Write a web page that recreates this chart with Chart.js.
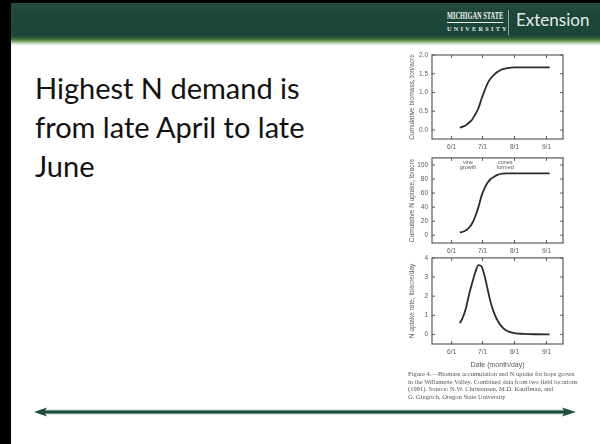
<!DOCTYPE html>
<html>
<head>
<meta charset="utf-8">
<script src="https://cdn.jsdelivr.net/npm/chart.js@4.4.1/dist/chart.umd.min.js"></script>
<style>
  html, body { margin: 0; padding: 0; }
  body { width: 600px; height: 444px; position: relative; overflow: hidden; background: #fff; }
  .abs { position: absolute; }
  #leftBar { left: 0; top: 0; width: 11px; height: 444px; background: #000; }
  #topBar { left: 0; top: 0; width: 600px; height: 3px; background: #000; }
  #header {
    left: 11px; top: 3px; width: 589px; height: 43px;
    background: linear-gradient(to bottom, #264c40 0px, #1e473a 10px, #1a4537 32px, #2c5a3b 35px, #55843f 37px, #97b585 39px, #d9e5d3 41px, #ffffff 43px);
  }
  #msu1 { left: 447px; top: 11px; font: bold 9.5px "Liberation Serif", serif; color: #f2f5f3;
          border-bottom: 1px solid #e6ece9; line-height: 11px; white-space: nowrap;
          transform: scaleX(0.67); transform-origin: left top; }
  #msu2 { left: 447px; top: 25px; font: bold 6.2px "Liberation Serif", serif; color: #e6ece9; letter-spacing: 2.3px; white-space: nowrap; }
  #divider { left: 508px; top: 10px; width: 1px; height: 25px; background: #8fa79e; }
  #ext { left: 516px; top: 9px; font: 17px Lato, sans-serif; color: #e4ebe7; white-space: nowrap; }
  #bodyText { left: 35px; top: 68px; font: 29px Lato, sans-serif; line-height: 39px; color: #111; white-space: nowrap; }
  canvas { position: absolute; filter: blur(0.3px); }
  #caption { left: 408px; top: 370px; font: 6.5px "Liberation Serif", serif; line-height: 7.5px; color: #555; white-space: nowrap; filter: blur(0.3px); }
</style>
</head>
<body>
<div class="abs" id="topBar"></div>
<div class="abs" id="header"></div>
<div class="abs" id="leftBar"></div>
<div class="abs" id="msu1">MICHIGAN STATE</div>
<div class="abs" id="msu2">UNIVERSITY</div>
<div class="abs" id="divider"></div>
<div class="abs" id="ext">Extension</div>
<div class="abs" id="bodyText">Highest N demand is<br>from late April to late<br>June</div>

<canvas id="chartBiomass" width="180" height="112" style="left:390px;top:47px"></canvas>
<canvas id="chartUptake" width="180" height="112" style="left:390px;top:150px"></canvas>
<canvas id="chartRate" width="180" height="122" style="left:390px;top:250px"></canvas>

<div class="abs" id="caption">Figure 4.—Biomass accumulation and N uptake for hops grown<br>in the Willamette Valley. Combined data from two field locations<br>(1991). Source: N.W. Christensen, M.D. Kauffman, and<br>G. Gingrich, Oregon State University</div>

<svg class="abs" style="left:0;top:400px" width="600" height="24">
  <line x1="40" y1="12" x2="568" y2="12" stroke="#bfd2c9" stroke-width="5"/>
  <line x1="40" y1="12" x2="568" y2="12" stroke="#1d4d40" stroke-width="3"/>
  <polygon points="34,12 47,7.5 44,12 47,16.5" fill="#1d4d40"/>
  <polygon points="576,12 562,7.5 565,12 562,16.5" fill="#1d4d40"/>
</svg>

<script>
// valores (fechas mes/día)
const dates    = ['6/9','6/12','6/15','6/18','6/21','6/24','6/27','6/30','7/3','7/6','7/9','7/12','7/15','7/20','7/25','8/1','8/10','8/20','9/4'];
const biomass  = [0.06, 0.09, 0.13, 0.20, 0.28, 0.42, 0.58, 0.83, 1.05, 1.25, 1.38, 1.47, 1.54, 1.62, 1.65, 1.67, 1.67, 1.67, 1.67];
const nUptake  = [4, 5, 7, 11, 17, 27, 40, 56, 67, 75, 80, 83, 85.5, 87.5, 88, 88, 88, 88, 88];
const nRate    = [0.6, 0.9, 1.4, 2.1, 2.7, 3.25, 3.62, 3.55, 3.05, 2.35, 1.65, 1.15, 0.78, 0.38, 0.18, 0.07, 0.03, 0.01, 0];

const xTickDates   = ['6/1', '7/1', '8/1', '9/1'];
const biomassTicks = [0, 0.5, 1.0, 1.5, 2.0];
const uptakeTicks  = [0, 20, 40, 60, 80, 100];
const rateTicks    = [0, 1, 2, 3, 4];

const MONTH_START = { 5: -31, 6: 0, 7: 30, 8: 61, 9: 92 };
function dayOf(s) {
  const [m, d] = s.split('/').map(Number);
  return MONTH_START[m] + d - 1;
}

const GRAY = '#5a5a5a';
const FONT = 'Liberation Sans';

// caja cerrada y marcas hacia adentro, estilo de la figura original
const boxPlugin = {
  id: 'box',
  afterDraw(chart) {
    const { ctx, chartArea: a, scales: { x, y } } = chart;
    ctx.save();
    ctx.strokeStyle = GRAY;
    ctx.lineWidth = 1.2;
    ctx.strokeRect(a.left, a.top, a.right - a.left, a.bottom - a.top);
    ctx.lineWidth = 1;
    ctx.beginPath();
    x.ticks.forEach(t => {
      const px = x.getPixelForValue(t.value);
      ctx.moveTo(px, a.bottom); ctx.lineTo(px, a.bottom - 3);
      ctx.moveTo(px, a.top);    ctx.lineTo(px, a.top + 3);
    });
    y.ticks.forEach(t => {
      const py = y.getPixelForValue(t.value);
      ctx.moveTo(a.left, py);  ctx.lineTo(a.left + 3, py);
      ctx.moveTo(a.right, py); ctx.lineTo(a.right - 3, py);
    });
    ctx.stroke();
    ctx.restore();
  }
};

// notas de texto dentro de la gráfica de N acumulado
const notesPlugin = {
  id: 'notes',
  afterDraw(chart, args, opts) {
    if (!opts.items) return;
    const { ctx, scales: { x, y } } = chart;
    ctx.save();
    ctx.fillStyle = GRAY;
    ctx.font = '5.5px ' + FONT;
    ctx.textAlign = 'center';
    ctx.textBaseline = 'middle';
    opts.items.forEach(it => {
      it.lines.forEach((ln, i) => {
        ctx.fillText(ln, x.getPixelForValue(dayOf(it.date)), y.getPixelForValue(it.y) + i * 5);
      });
    });
    ctx.restore();
  }
};

function makePanel(id, values, cfg) {
  return new Chart(document.getElementById(id), {
    type: 'line',
    data: {
      datasets: [{
        data: dates.map((d, i) => ({ x: dayOf(d), y: values[i] })),
        borderColor: '#2b2b2b',
        borderWidth: 1.8,
        pointRadius: 0,
        fill: false,
        cubicInterpolationMode: 'monotone'
      }]
    },
    options: {
      responsive: false,
      animation: false,
      devicePixelRatio: 1,
      layout: { padding: { left: 0, right: 7, top: cfg.top, bottom: 0 } },
      plugins: { legend: { display: false }, tooltip: { enabled: false }, notes: { items: cfg.notes || null } },
      scales: {
        x: {
          type: 'linear', min: -19, max: 108,
          afterBuildTicks: s => { s.ticks = xTickDates.map(d => ({ value: dayOf(d) })); },
          afterFit: s => { s.height = cfg.xHeight; },
          grid: { display: false, drawTicks: false },
          border: { display: false },
          ticks: {
            autoSkip: false, maxRotation: 0, padding: 4,
            color: GRAY, font: { family: FONT, size: 6.5 },
            callback: (v, i) => xTickDates[i]
          },
          title: cfg.xTitle
            ? { display: true, text: cfg.xTitle, color: GRAY, font: { family: FONT, size: 7 }, padding: { top: 0, bottom: 3 } }
            : { display: false }
        },
        y: {
          min: cfg.min, max: cfg.max,
          afterBuildTicks: s => { s.ticks = cfg.ticks.map(v => ({ value: v })); },
          afterFit: s => { s.width = 42; },
          grid: { display: false, drawTicks: false },
          border: { display: false },
          ticks: {
            padding: 4, color: GRAY, font: { family: FONT, size: 6.5 },
            callback: cfg.fmt
          },
          title: { display: true, text: cfg.yTitle, color: GRAY, font: { family: FONT, size: 6.5 }, padding: { top: 18, bottom: 0 } }
        }
      }
    },
    plugins: [boxPlugin, notesPlugin]
  });
}

makePanel('chartBiomass', biomass, {
  min: -0.24, max: 2.0, ticks: biomassTicks, top: 8, xHeight: 20,
  fmt: v => Number(v).toFixed(1),
  yTitle: 'Cumulative biomass, ton/acre'
});

makePanel('chartUptake', nUptake, {
  min: -11, max: 110, ticks: uptakeTicks, top: 7, xHeight: 19,
  fmt: v => v,
  yTitle: 'Cumulative N uptake, lb/acre',
  notes: [
    { date: '6/17', y: 103, lines: ['vine', 'growth'] },
    { date: '7/23', y: 103, lines: ['cones', 'formed'] }
  ]
});

makePanel('chartRate', nRate, {
  min: -0.5, max: 4, ticks: rateTicks, top: 7, xHeight: 28,
  fmt: v => v,
  yTitle: 'N uptake rate, lb/acre/day',
  xTitle: 'Date (month/day)'
});
</script>
</body>
</html>
